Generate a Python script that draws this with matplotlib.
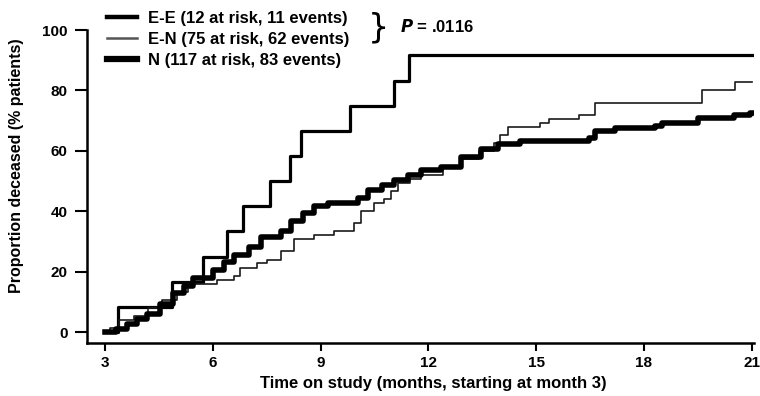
import matplotlib
matplotlib.use("Agg")
import matplotlib.pyplot as plt
from matplotlib.lines import Line2D

plt.rcParams["font.family"] = ["Liberation Sans", "DejaVu Sans"]
plt.rcParams["font.weight"] = "bold"

# E-E group: step times (months) and cumulative % deceased
ee_t = [3.0, 3.36, 4.87, 5.74, 6.40, 6.83, 7.58, 8.15, 8.45, 9.82, 11.05, 11.47, 21.0]
ee_y = [0.0, 8.3, 16.7, 25.0, 33.3, 41.7, 50.0, 58.3, 66.7, 75.0, 83.3, 91.7, 91.7]

# E-N group
en_t = [3.0, 3.15, 3.40, 3.80, 4.20, 4.60, 5.00, 5.30, 6.13, 6.58, 6.77, 7.24, 7.52,
        7.89, 8.25, 8.81, 9.37, 9.93, 10.12, 10.49, 10.77, 10.96, 11.15, 11.50,
        11.80, 12.40, 12.90, 13.40, 13.84, 13.98, 14.23, 15.10, 15.35, 16.18,
        16.63, 19.62, 20.54, 21.0]
en_y = [0.0, 1.3, 4.0, 5.3, 8.0, 10.7, 13.3, 16.0, 17.3, 18.7, 21.3, 22.7, 24.0,
        26.7, 30.7, 32.0, 33.3, 36.0, 40.0, 42.7, 44.0, 46.7, 49.3, 50.7,
        52.0, 54.7, 57.3, 60.0, 62.7, 65.3, 68.0, 69.3, 70.7, 72.0,
        76.0, 80.0, 82.7, 82.7]

# N group
n_t = [3.0, 3.30, 3.61, 3.90, 4.17, 4.54, 4.90, 5.20, 5.46, 6.02, 6.30, 6.58, 7.00,
       7.33, 7.89, 8.17, 8.50, 8.81, 9.20, 10.04, 10.32, 10.70, 11.05, 11.43,
       11.80, 12.36, 12.92, 13.47, 13.95, 14.54, 16.46, 16.63, 17.19, 18.30,
       18.50, 19.50, 20.50, 20.96, 21.0]
n_y = [0.0, 0.9, 2.6, 4.3, 6.0, 9.4, 12.8, 15.4, 17.9, 20.5, 23.1, 25.6, 28.2,
       31.6, 33.3, 36.8, 39.3, 41.9, 42.7, 44.4, 47.0, 48.7, 50.4, 52.1,
       53.8, 54.7, 58.1, 60.7, 62.4, 63.2, 64.1, 66.7, 67.5, 68.4,
       69.2, 70.9, 71.8, 72.6, 72.6]

labels = ["E-E (12 at risk, 11 events)", "E-N (75 at risk, 62 events)",
          "N (117 at risk, 83 events)"]
x_ticks = [3, 6, 9, 12, 15, 18, 21]
y_ticks = [0, 20, 40, 60, 80, 100]

fig = plt.figure(figsize=(7.6, 3.96), dpi=100)
ax = fig.add_axes([0.1145, 0.1338, 0.877, 0.794])

ax.step(ee_t, ee_y, where="post", color="black", lw=2.3)
ax.step(en_t, en_y, where="post", color="#1a1a1a", lw=1.2)
ax.step(n_t, n_y, where="post", color="black", lw=4.0)

ax.set_xlim(2.5, 21.05)
ax.set_ylim(-3.64, 100.5)
ax.set_xticks(x_ticks)
ax.set_yticks(y_ticks)
ax.tick_params(labelsize=11, width=1.5, colors="black")
ax.tick_params(axis="y", length=8.6, pad=5.5)
ax.tick_params(axis="x", length=5.8, pad=3.6)
for s in ["top", "right"]:
    ax.spines[s].set_visible(False)
for s in ["left", "bottom"]:
    ax.spines[s].set_linewidth(1.8)
ax.spines["left"].set_bounds(-3.64, 100)

ax.set_xlabel("Time on study (months, starting at month 3)", fontsize=12,
              fontweight="bold")
ax.xaxis.set_label_coords(0.52, -0.105)
ax.set_ylabel("Proportion deceased (% patients)", fontsize=11.5,
              fontweight="bold")
ax.yaxis.set_label_coords(-0.094, 0.565)

# legend handles with their own widths
handles = [Line2D([], [], color="black", lw=3.2),
           Line2D([], [], color="#555555", lw=1.8),
           Line2D([], [], color="black", lw=4.5)]
fig.legend(handles, labels, loc="upper left", bbox_to_anchor=(0.1276, 0.997),
           frameon=False, fontsize=12, handlelength=1.8, handletextpad=0.66,
           labelspacing=0.36, borderaxespad=0.2)

fig.text(0.484, 0.929, "}", fontsize=24, fontweight="normal", va="center",
         ha="left", family="DejaVu Sans")
fig.text(0.526, 0.934, r"$\mathbfit{P}$ = .0116", fontsize=12, va="center", ha="left")

fig.savefig("out.png", dpi=100)
